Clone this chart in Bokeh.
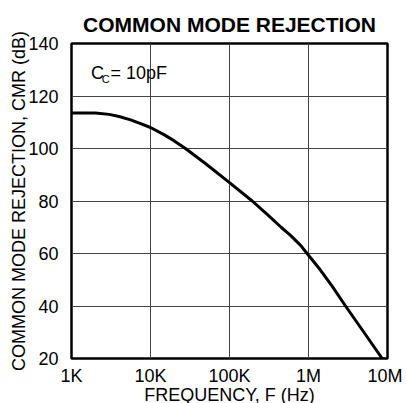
from bokeh.plotting import figure
from bokeh.models import FixedTicker, Range1d, Label
from bokeh.embed import file_html
from bokeh.resources import INLINE

freq = [1e3, 2e3, 3e3, 4e3, 5.6e3, 7.5e3, 1e4, 1.5e4, 2e4, 2.77e4, 5e4, 1e5, 1.94e5, 3e5,
        4.5e5, 5.92e5, 8e5, 9.6e5, 1.4e6, 2e6, 2.94e6, 5e6, 8.57e6]
cmr = [113.5, 113.5, 113.0, 112.2, 110.9, 109.5, 108.0, 105.2, 102.9, 100.0, 94.2, 87.0, 80.0, 74.9,
       70.0, 66.9, 63.0, 60.0, 53.9, 47.5, 40.0, 30.1, 20.0]

x_ticks = [1e3, 1e4, 1e5, 1e6, 1e7]
x_tick_labels = ["1K", "10K", "100K", "1M", "10M"]
y_ticks = [20, 40, 60, 80, 100, 120, 140]

FONT = "Liberation Sans"

p = figure(frame_width=316, frame_height=315, x_axis_type="log",
           x_range=Range1d(1e3, 1e7), y_range=Range1d(20, 140),
           output_backend="svg", toolbar_location=None,
           min_border_left=71, min_border_right=15, min_border_top=43, min_border_bottom=10)

p.title.text = "COMMON MODE REJECTION"
p.title.align = "center"
p.title.text_font = FONT
p.title.text_font_size = "21px"
p.title.text_font_style = "bold"
p.title.text_color = "black"
p.title.standoff = 16

p.line(freq, cmr, line_color="black", line_width=3, line_join="round")

p.xaxis.ticker = FixedTicker(ticks=x_ticks)
p.xaxis.major_label_overrides = {t: l for t, l in zip(x_ticks, x_tick_labels)}
p.yaxis.ticker = FixedTicker(ticks=y_ticks)
for ax in (p.xaxis, p.yaxis):
    ax.major_tick_line_color = None
    ax.minor_tick_line_color = None
    ax.axis_line_color = None
    ax.major_label_text_font = FONT
    ax.major_label_text_font_size = "18px"
    ax.major_label_text_color = "black"
    ax.axis_label_text_font = FONT
    ax.axis_label_text_font_style = "normal"
    ax.axis_label_text_color = "black"
    ax.axis_label_text_font_size = "18px"
p.xaxis.major_label_standoff = 1
p.xaxis.axis_label_standoff = -4
p.yaxis.major_label_standoff = 7
p.yaxis.axis_label_standoff = -4
p.xaxis.axis_label = "FREQUENCY, F (Hz)"
p.yaxis.axis_label = "COMMON MODE REJECTION, CMR (dB)"

p.xgrid.ticker = FixedTicker(ticks=x_ticks)
p.ygrid.ticker = FixedTicker(ticks=y_ticks)
p.grid.grid_line_color = "#444444"
p.grid.grid_line_width = 1
p.grid.grid_line_alpha = 1

p.outline_line_color = "black"
p.outline_line_width = 2.5
p.background_fill_color = "white"
p.border_fill_color = "white"

p.add_layout(Label(x=1770, y=125.1, text="C", text_font=FONT, text_font_size="18px", text_color="black"))
p.add_layout(Label(x=2420, y=124.2, text="C", text_font=FONT, text_font_size="11px", text_color="black"))
p.add_layout(Label(x=3120, y=125.1, text="= 10pF", text_font=FONT, text_font_size="18px", text_color="black"))

open("out.html", "w").write(file_html(p, INLINE))
